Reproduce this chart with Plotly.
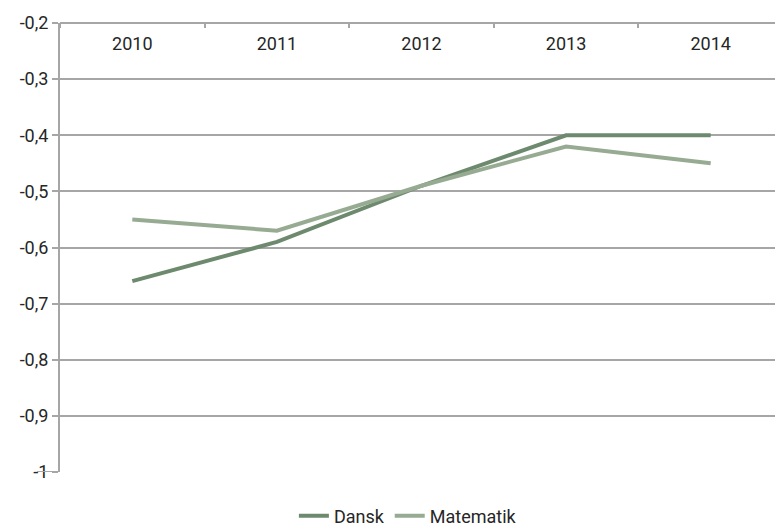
import plotly.graph_objects as go

years = ["2010", "2011", "2012", "2013", "2014"]
dansk = [-0.66, -0.59, -0.49, -0.40, -0.40]
matematik = [-0.55, -0.57, -0.49, -0.42, -0.45]
y_tickvals = [-1, -0.9, -0.8, -0.7, -0.6, -0.5, -0.4, -0.3, -0.2]
y_ticktext = ["-1", "-0,9", "-0,8", "-0,7", "-0,6", "-0,5", "-0,4", "-0,3", "-0,2"]

GRID = "#a6a6a6"

fig = go.Figure()
fig.add_trace(go.Scatter(x=years, y=dansk, name="Dansk", mode="lines",
                         line=dict(color="#6e8a6e", width=4)))
fig.add_trace(go.Scatter(x=years, y=matematik, name="Matematik", mode="lines",
                         line=dict(color="#97ab93", width=4)))

fig.update_layout(
    width=775, height=521,
    margin=dict(l=52, r=0, t=15, b=57),
    paper_bgcolor="white", plot_bgcolor="white",
    font=dict(family="Roboto", size=18, color="#262626"),
    showlegend=True,
    legend=dict(orientation="h", xref="container", yref="container",
                x=0.516, xanchor="center", y=0.025, yanchor="middle",
                font=dict(size=18), tracegroupgap=0),
    xaxis=dict(
        type="category", anchor="free", position=1, side="bottom",
        tickson="boundaries", ticks="outside", ticklen=4, tickcolor=GRID,
        tickwidth=2, showline=True, linecolor=GRID, linewidth=2,
        showgrid=False, range=[-0.5, 4.5], automargin=False,
        ticklabelstandoff=4,
    ),
    yaxis=dict(
        range=[-1, -0.2], tickvals=y_tickvals, ticktext=y_ticktext,
        showgrid=True, gridcolor=GRID, gridwidth=2,
        showline=True, linecolor=GRID, linewidth=2,
        ticks="outside", ticklen=6, tickcolor=GRID, tickwidth=2,
        zeroline=False, automargin=False, ticklabelstandoff=0,
    ),
    shapes=[dict(type="line", xref="paper", yref="y", x0=-0.032, x1=0,
                 y0=-1, y1=-1, line=dict(color=GRID, width=2))],
)
fig.write_html("out.html")
